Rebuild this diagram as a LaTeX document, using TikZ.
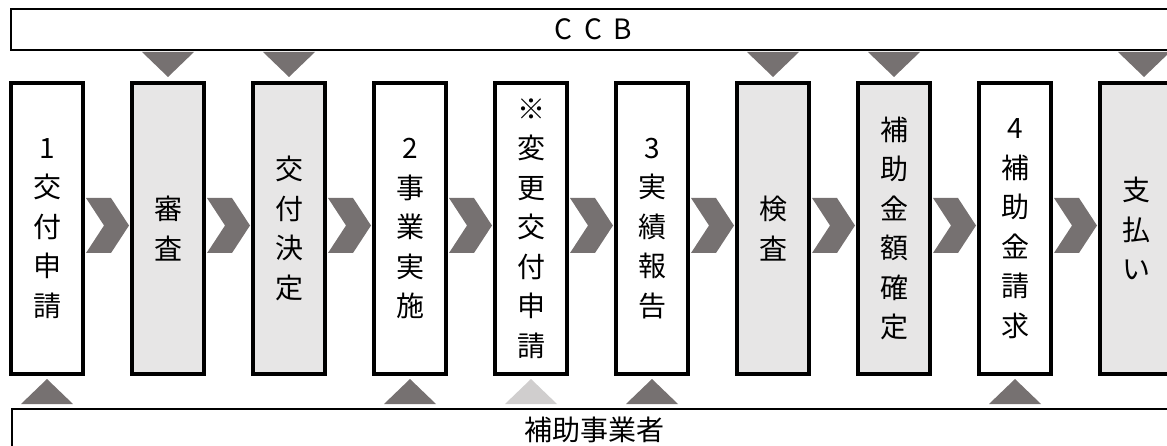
\documentclass[tikz,border=0pt]{standalone}
\usepackage{fontspec}
\setmainfont{Noto Sans CJK JP}
\usetikzlibrary{calc}
\definecolor{dk}{HTML}{767171}
\definecolor{lt}{HTML}{D0CECE}
\definecolor{bx}{HTML}{E7E6E6}
\newcommand\mychev[1]{\fill[dk] ($(#1.east)+(1,-30.5)$) -- ++(25,0) -- ++(18,27.5) -- ++(-18,27.5) -- ++(-25,0) -- ++(18,-27.5) -- cycle;}
\newcommand\mydown[2]{\fill[#2] ($(#1.north)+(0,-4)$) -- ++(-26,-25) -- ++(52,0) -- cycle;}
\newcommand\myup[2]{\fill[#2] ($(#1.south)+(0,3)$) -- ++(-26,25) -- ++(52,0) -- cycle;}
\begin{document}
\begin{tikzpicture}[x=1pt,y=-1pt,
  stepbox/.style={draw=black, line width=4pt, minimum width=72pt, minimum height=291pt, inner sep=0pt, align=center, font=\fontsize{28}{39.5}\selectfont},
  wbox/.style={stepbox, fill=white},
  gbox/.style={stepbox, fill=bx},
  bar/.style={draw=black, line width=2pt, fill=white, inner sep=0pt, minimum width=1164pt}]
\useasboundingbox (0,0) rectangle (1167,446);
\node[bar, minimum height=41pt, font=\fontsize{28}{30}\selectfont] (ccb) at (593,29.5) {\makebox[30pt]{C}\makebox[30pt]{C}\makebox[30pt]{B}};
\node[bar, minimum height=42pt, font=\fontsize{28}{30}\selectfont] (sub) at (594,430) {補助事業者};
\node[wbox] (b1) at (47,228.5) {1\\交\\付\\申\\請};
\node[gbox] (b2) at (168,228.5) {審\\査};
\node[gbox] (b3) at (289,228.5) {交\\付\\決\\定};
\node[wbox] (b4) at (410,228.5) {2\\事\\業\\実\\施};
\node[wbox] (b5) at (531,228.5) {※\\変\\更\\交\\付\\申\\請};
\node[wbox] (b6) at (652,228.5) {3\\実\\績\\報\\告};
\node[gbox] (b7) at (773,228.5) {検\\査};
\node[gbox] (b8) at (894,228.5) {補\\助\\金\\額\\確\\定};
\node[wbox] (b9) at (1015,228.5) {4\\補\\助\\金\\請\\求};
\node[gbox] (b10) at (1136,228.5) {支\\払\\い};
\foreach \i in {1,...,9}{\mychev{b\i}}
\foreach \i in {2,3,7,8}{\mydown{b\i}{dk}}
\fill[dk] ($(b10.north)+(8,-4)$) -- ++(-26,-25) -- ++(52,0) -- cycle;
\foreach \i in {1,4,6,9}{\myup{b\i}{dk}}
\myup{b5}{lt}
\end{tikzpicture}
\end{document}
